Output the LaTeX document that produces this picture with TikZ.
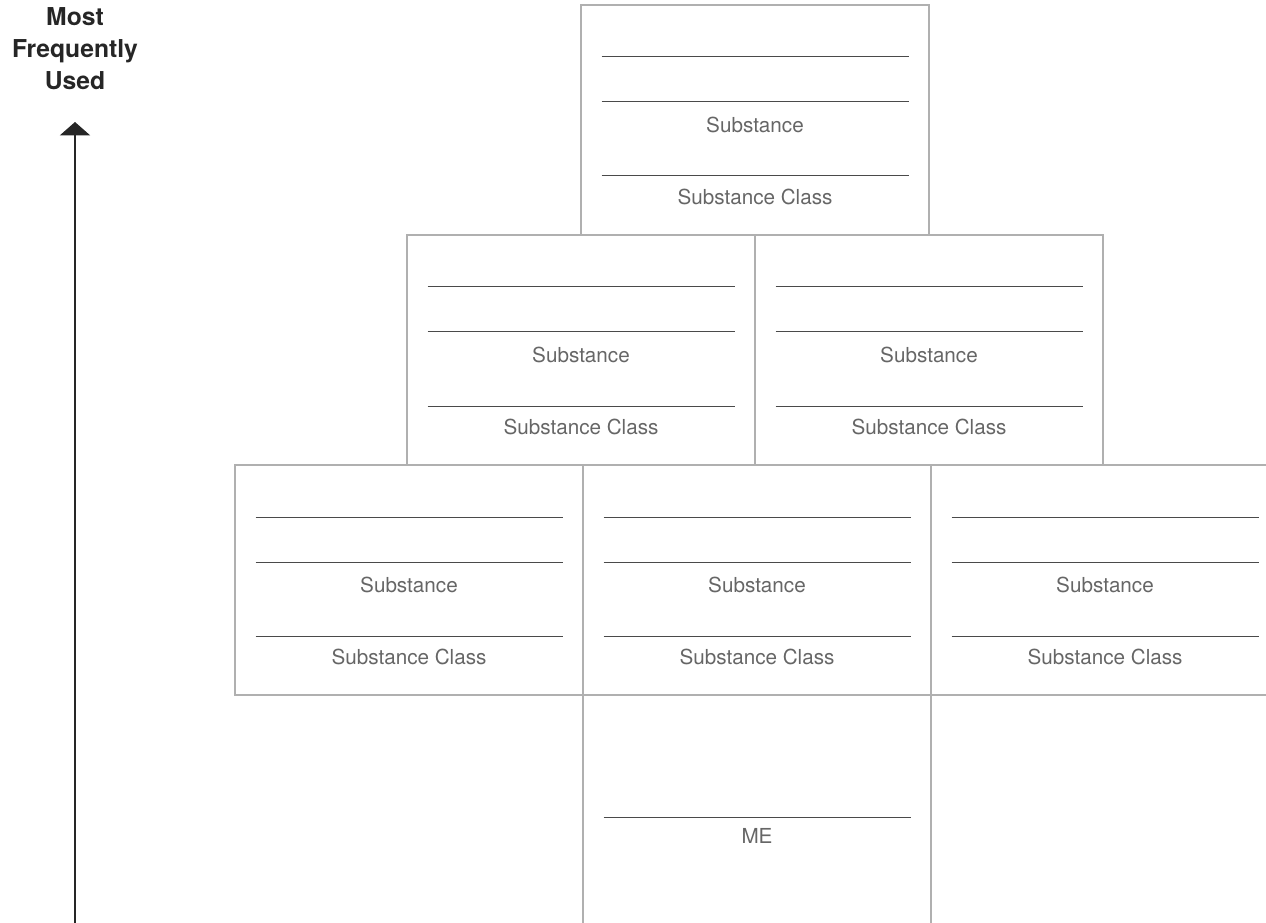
\documentclass[tikz,border=0pt]{standalone}
\usepackage{fontspec}
\setmainfont{TeX Gyre Heros}
\usetikzlibrary{arrows.meta}
\definecolor{boxgray}{HTML}{B0B0B0}
\definecolor{linegray}{HTML}{4A4A4A}
\definecolor{textgray}{HTML}{666666}
\begin{document}
\begin{tikzpicture}
        [x=0.75pt, y=-0.75pt,
        box/.style={draw=boxgray, line width=1.1pt, minimum width=261pt, minimum height=172.5pt, inner sep=0pt},
        blank/.style={linegray, line width=0.75pt},
        caption/.style={text=textgray, inner sep=0pt, font=\fontsize{15.5}{18}\selectfont},
        axis/.style={black!85, line width=1.1pt, -{Triangle[width=22.5pt,length=10pt]}}]

        \useasboundingbox (0,0) rectangle (1266,923);
        \clip (0,0) rectangle (1266,923);

        % pyramid of boxes
        \node[box] (top) at (755,120) {};
        \node[box] (midl) at (581,350) {};
        \node[box] (midr) at (929,350) {};
        \node[box] (botl) at (409,580) {};
        \node[box] (botc) at (757,580) {};
        \node[box] (botr) at (1105,580) {};
        \node[box] (me) at (757,810) {};

        % blanks and captions
        \foreach \b in {top,midl,midr,botl,botc,botr} {
            \draw[blank] (\b.center) ++(-153.5,-63) -- ++(307,0);
            \draw[blank] (\b.center) ++(-153.5,-18) -- ++(307,0);
            \draw[blank] (\b.center) ++(-153.5,56) -- ++(307,0);
            \path (\b.center) ++(0,5) node[caption] (\b-sub) {Substance};
            \path (\b.center) ++(0,77) node[caption] (\b-cls) {Substance Class};
        }
        \draw[blank] (me.center) ++(-153.5,7) -- ++(307,0);
        \path (me.center) ++(0,26) node[caption] (me-txt) {ME};

        % frequency axis
        \node[font=\bfseries\fontsize{18.5}{24}\selectfont, align=center, text=black!85] (lbl) at (75,49) {Most\\Frequently\\Used};
        \coordinate (tail) at (75,923);
        \coordinate (head) at (75,122);
        \draw[axis] (tail) -- (head);

    \end{tikzpicture}
\end{document}
